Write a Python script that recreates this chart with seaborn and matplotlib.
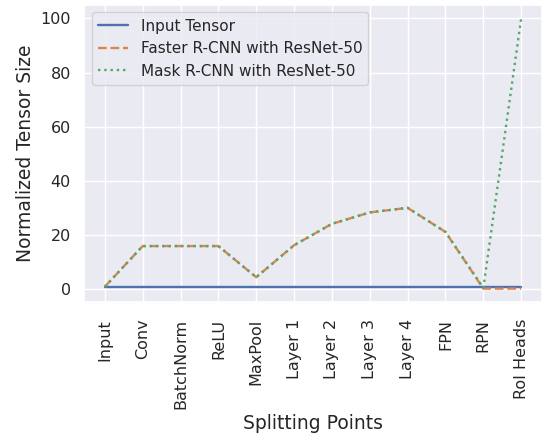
import matplotlib
matplotlib.use("Agg")
import matplotlib.pyplot as plt
import seaborn as sns
import pandas as pd

points = ["Input", "Conv", "BatchNorm", "ReLU", "MaxPool", "Layer 1", "Layer 2",
          "Layer 3", "Layer 4", "FPN", "RPN", "RoI Heads"]
input_tensor = [1, 1, 1, 1, 1, 1, 1, 1, 1, 1, 1, 1]
faster_rcnn = [1, 16, 16, 16, 4.5, 16.3, 24.2, 28.4, 30.1, 21.2, 0.3, 0.3]
mask_rcnn = [1, 16, 16, 16, 4.5, 16.3, 24.2, 28.4, 30.1, 21.2, 0.6, 100]

sns.set_theme(style="darkgrid")
plt.rcParams['font.family'] = ['DejaVu Sans']

fig = plt.figure(figsize=(5.42, 4.36), dpi=100)
ax = fig.add_axes([0.155, 0.307, 0.845, 0.682])

pal = sns.color_palette("deep")
sns.lineplot(x=points, y=input_tensor, ax=ax, color=pal[0], linestyle="-",
             label="Input Tensor", sort=False, linewidth=1.7)
sns.lineplot(x=points, y=faster_rcnn, ax=ax, color=pal[1], linestyle="--",
             label="Faster R-CNN with ResNet-50", sort=False, linewidth=1.7)
sns.lineplot(x=points, y=mask_rcnn, ax=ax, color=pal[2], linestyle=":",
             label="Mask R-CNN with ResNet-50", sort=False, linewidth=1.7)

ax.set_xlabel("Splitting Points", fontsize=13.5)
ax.set_ylabel("Normalized Tensor Size", fontsize=13.5)
ax.tick_params(axis="both", labelsize=11.5)
ax.tick_params(axis="x", pad=6)
plt.setp(ax.get_xticklabels(), rotation=90)
ax.set_yticks([0, 20, 40, 60, 80, 100])
ax.legend(loc="upper left", fontsize=11)

fig.savefig("out.png", dpi=100)
